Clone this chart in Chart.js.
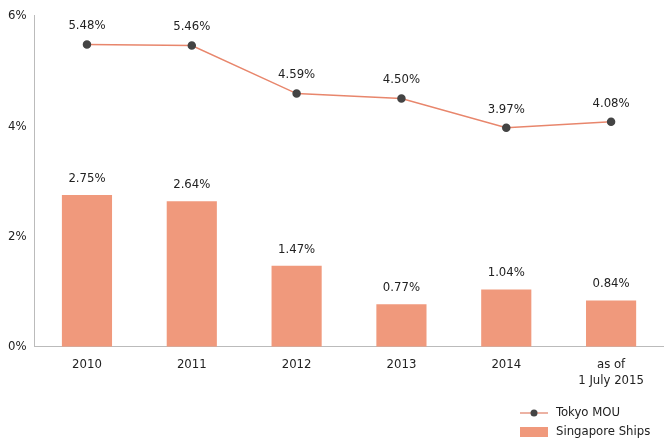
<!DOCTYPE html>
<html><head><meta charset="utf-8">
<script src="https://cdn.jsdelivr.net/npm/chart.js@4/dist/chart.umd.min.js"></script>
<style>html,body{margin:0;background:#fff}#wrap{width:669px;height:448px}</style>
</head><body><div id="wrap"><canvas id="chart"></canvas></div>
<script>
const categories = ['2010', '2011', '2012', '2013', '2014', ['as of', '1 July 2015']];
const tokyoMou = [5.48, 5.46, 4.59, 4.50, 3.97, 4.08];
const singaporeShips = [2.75, 2.64, 1.47, 0.77, 1.04, 0.84];
const yTicks = [0, 2, 4, 6];

const FONT = '"DejaVu Sans Condensed", "DejaVu Sans", sans-serif';
const TXT = '#222';

const valueLabels = {
  id: 'valueLabels',
  afterDatasetsDraw(chart) {
    const c = chart.ctx;
    c.save();
    c.font = '13px ' + FONT;
    c.fillStyle = TXT;
    c.textAlign = 'center';
    c.textBaseline = 'bottom';
    chart.data.datasets.forEach((ds, i) => {
      chart.getDatasetMeta(i).data.forEach((el, j) => {
        const off = ds.type === 'line' ? 12 : 10;
        c.fillText(ds.data[j].toFixed(2) + '%', el.x, el.y - off);
      });
    });
    c.restore();
  }
};

const sideLegend = {
  id: 'sideLegend',
  afterDraw(chart) {
    const c = chart.ctx;
    c.save();
    c.font = '13px ' + FONT;
    c.fillStyle = TXT;
    c.textBaseline = 'middle';
    const x = 520;
    // line entry
    let y = 413;
    c.strokeStyle = '#e07f66'; c.lineWidth = 1.2;
    c.beginPath(); c.moveTo(x, y); c.lineTo(x + 28, y); c.stroke();
    c.fillStyle = '#444'; c.beginPath(); c.arc(x + 14, y, 3.5, 0, Math.PI * 2); c.fill();
    c.fillStyle = TXT; c.fillText(chart.data.datasets[0].label, x + 36, y);
    // bar entry
    y = 432;
    c.fillStyle = '#f0997c'; c.fillRect(x, y - 5, 28, 10);
    c.fillStyle = TXT; c.fillText(chart.data.datasets[1].label, x + 36, y);
    c.restore();
  }
};

new Chart(document.getElementById('chart'), {
  data: {
    labels: categories,
    datasets: [
      {
        type: 'line', label: 'Tokyo MOU', data: tokyoMou,
        borderColor: '#e8866c', borderWidth: 1.5,
        pointBackgroundColor: '#444', pointBorderColor: '#444', pointRadius: 3.5
      },
      {
        type: 'bar', label: 'Singapore Ships', data: singaporeShips,
        backgroundColor: '#f0997c', categoryPercentage: 0.92, barPercentage: 0.52
      }
    ]
  },
  options: {
    responsive: true, maintainAspectRatio: false, animation: false,
    layout: { padding: { top: 12, right: 2, bottom: 50, left: 0 } },
    plugins: { legend: { display: false }, tooltip: { enabled: false } },
    scales: {
      x: {
        grid: { display: false, drawTicks: false },
        border: { color: '#bbb' },
        ticks: { color: TXT, font: { family: FONT, size: 13 }, padding: 10 }
      },
      y: {
        min: 0, max: 6,
        grid: { display: false, drawTicks: false },
        border: { color: '#bbb' },
        afterBuildTicks(axis) { axis.ticks = yTicks.map(v => ({ value: v })); },
        ticks: { color: TXT, font: { family: FONT, size: 13 }, padding: 8, callback: v => v + '%' }
      }
    }
  },
  plugins: [valueLabels, sideLegend]
});
</script></body></html>
